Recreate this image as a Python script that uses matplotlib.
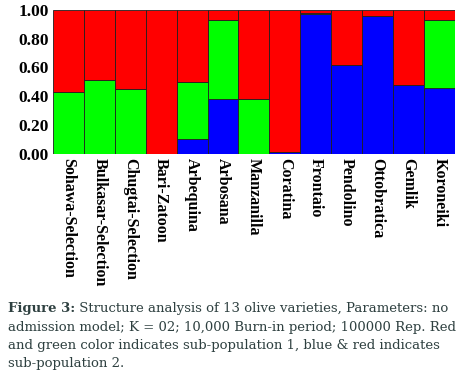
import numpy as np
import matplotlib
matplotlib.use("Agg")
import matplotlib.pyplot as plt

# ---------------- DATA ---------------- #
varieties = ["Sohawa-Selection", "Bulkasar-Selection", "Chugtai-Selection", "Bari-Zatoon",
             "Arbequina", "Arbosana", "Manzanilla", "Coratina", "Frontaio",
             "Pendolino", "Ottobratica", "Gemlik", "Koroneiki"]
blue = [0.00, 0.00, 0.00, 0.00, 0.10, 0.38, 0.00, 0.015, 0.97, 0.62, 0.96, 0.48, 0.46]
green = [0.43, 0.51, 0.45, 0.00, 0.40, 0.55, 0.38, 0.00, 0.01, 0.00, 0.00, 0.00, 0.47]
red = [1 - b - g for b, g in zip(blue, green)]
yticks = [0.0, 0.2, 0.4, 0.6, 0.8, 1.0]

caption_bold = "Figure 3:"
caption_lines = [
    " Structure analysis of 13 olive varieties, Parameters: no",
    "admission model; K = 02; 10,000 Burn-in period; 100000 Rep. Red",
    "and green color indicates sub-population 1, blue & red indicates",
    "sub-population 2.",
]

# ---------------- FIGURE ---------------- #
fig = plt.figure(figsize=(4.65, 3.8), dpi=100)
ax = fig.add_axes([0.114, 0.595, 0.864, 0.379])

x = np.arange(len(varieties))
b = np.array(blue)
g = np.array(green)
r = np.array(red)
ax.bar(x, b, width=1.0, color="#0000ff", edgecolor="#202020", linewidth=0.6)
ax.bar(x, g, bottom=b, width=1.0, color="#00ff00", edgecolor="#202020", linewidth=0.6)
ax.bar(x, r, bottom=b + g, width=1.0, color="#ff0000", edgecolor="#202020", linewidth=0.6)

ax.set_xlim(-0.5, len(varieties) - 0.5)
ax.set_ylim(0, 1)
ax.set_yticks(yticks)
ax.set_yticklabels([f"{v:.2f}" for v in yticks], fontfamily="Liberation Serif",
                   fontweight="bold", fontsize=12.5)
ax.set_xticks(x)
ax.set_xticklabels(varieties, rotation=270, fontfamily="Liberation Serif",
                   fontweight="bold", fontsize=11.5, va="top", ha="center")
ax.tick_params(length=0, pad=3)
for s in ax.spines.values():
    s.set_visible(False)

# ---------------- CAPTION ---------------- #
cap_color = "#2e4040"
cap_font = dict(fontfamily="DejaVu Serif", fontsize=9.5, color=cap_color)
y0 = 1 - 312 / 380
dy = 18.5 / 380
t = fig.text(0.017, y0, caption_bold, fontweight="bold", va="baseline", **cap_font)
fig.canvas.draw()
bb = t.get_window_extent()
fig.text(bb.x1 / fig.bbox.width, y0, caption_lines[0], va="baseline", **cap_font)
for i, line in enumerate(caption_lines[1:], start=1):
    fig.text(0.017, y0 - i * dy, line, va="baseline", **cap_font)

fig.savefig("out.png", dpi=100, facecolor="white")
